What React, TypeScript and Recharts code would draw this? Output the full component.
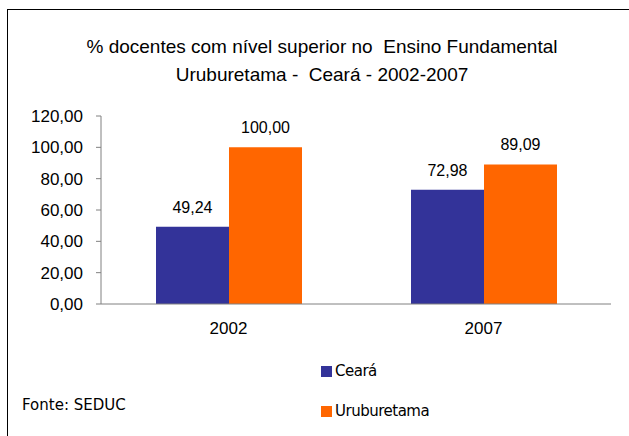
import React from "react";
import { BarChart, Bar, XAxis, YAxis, LabelList } from "recharts";

const categories = ["2002", "2007"];
const cearaValues = [49.24, 72.98];
const uruburetamaValues = [100.0, 89.09];
const yTicks = [0, 20, 40, 60, 80, 100, 120];
const seriesNames = ["Ceará", "Uruburetama"];
const seriesColors = ["#333399", "#FF6600"];
const titleLines = [
  "% docentes com nível superior no  Ensino Fundamental",
  "Uruburetama -  Ceará - 2002-2007",
];
const sourceText = "Fonte: SEDUC";

const data = categories.map((c, i) => ({
  name: c,
  idx: i + 0.5,
  ceara: cearaValues[i],
  uru: uruburetamaValues[i],
}));

const fmt = (v: number) => v.toFixed(2).replace(".", ",");

export default function App() {
  const font = "'Liberation Sans', Arial, sans-serif";
  return (
    <div
      style={{
        position: "absolute",
        left: 0,
        top: 0,
        width: 629,
        height: 436,
        background: "#fff",
        overflow: "hidden",
      }}
    >
      <div
        style={{
          position: "absolute",
          left: 7,
          top: 9,
          width: 640,
          height: 450,
          borderLeft: "1px solid #000",
          borderTop: "1px solid #000",
        }}
      />
      {titleLines.map((t, i) => (
        <div
          key={i}
          style={{
            position: "absolute",
            left: 0,
            width: 644,
            top: 36 + i * 28,
            textAlign: "center",
            fontFamily: font,
            fontSize: 19,
            lineHeight: "22px",
            color: "#000",
            whiteSpace: "pre",
          }}
        >
          {t}
        </div>
      ))}
      <div style={{ position: "absolute", left: 0, top: 0 }}>
        <BarChart
          width={629}
          height={436}
          data={data}
          margin={{ top: 116, right: 18, bottom: 102, left: 0 }}
          barGap={0}
          barSize={73}
        >
          <XAxis
            dataKey="name"
            xAxisId="cat"
            axisLine={{ stroke: "#808080" }}
            tickLine={false}
            tickSize={0}
            tickMargin={18}
            tick={{ fill: "#000", fontSize: 17, fontFamily: font }}
            height={30}
          />
          <XAxis
            xAxisId="grid"
            type="number"
            dataKey="idx"
            domain={[0, 2]}
            ticks={[0, 1, 2]}
            axisLine={false}
            tickLine={{ stroke: "#000" }}
            tickSize={5}
            tick={false}
            height={0}
          />
          <YAxis
            domain={[0, 120]}
            ticks={yTicks}
            width={101}
            axisLine={{ stroke: "#808080" }}
            tickLine={{ stroke: "#808080" }}
            tickSize={5}
            tickMargin={13}
            tickFormatter={fmt}
            tick={{ fill: "#000", fontSize: 17, fontFamily: font }}
          />
          <Bar dataKey="ceara" xAxisId="cat" fill={seriesColors[0]} isAnimationActive={false}>
            <LabelList
              dataKey="ceara"
              position="top"
              offset={14}
              formatter={(v: number) => fmt(v)}
              style={{ fill: "#000", fontSize: 16, fontFamily: font }}
            />
          </Bar>
          <Bar dataKey="uru" xAxisId="cat" fill={seriesColors[1]} isAnimationActive={false}>
            <LabelList
              dataKey="uru"
              position="top"
              offset={14}
              formatter={(v: number) => fmt(v)}
              style={{ fill: "#000", fontSize: 16, fontFamily: font }}
            />
          </Bar>
        </BarChart>
      </div>
      {seriesNames.map((n, i) => (
        <div
          key={n}
          style={{
            position: "absolute",
            left: 321,
            top: 362 + i * 40,
            display: "flex",
            alignItems: "center",
            fontFamily: "'DejaVu Sans', sans-serif",
            fontSize: 15,
            color: "#000",
            letterSpacing: -0.5,
          }}
        >
          <span
            style={{
              display: "inline-block",
              width: 11,
              height: 11,
              background: seriesColors[i],
              marginRight: 3,
            }}
          />
          {n}
        </div>
      ))}
      <div
        style={{
          position: "absolute",
          left: 22,
          top: 396,
          fontFamily: "'DejaVu Sans', sans-serif",
          fontSize: 15,
          color: "#000",
        }}
      >
        {sourceText}
      </div>
    </div>
  );
}
